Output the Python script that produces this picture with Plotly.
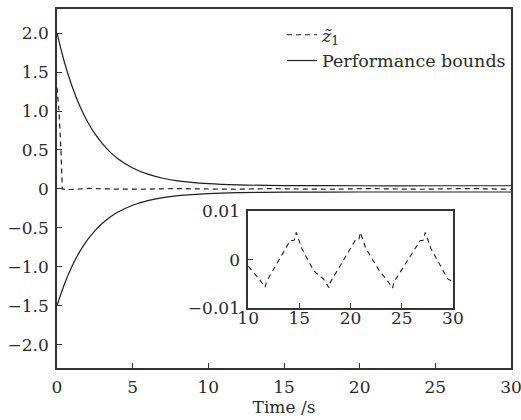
import plotly.graph_objects as go

# Performance bounds
t_bound = [0, 0.5, 1, 1.5, 2, 2.5, 3, 3.5, 4, 5, 6, 7, 8, 10, 12, 15, 20, 25, 30]
upper_bound = [2.00, 1.62, 1.315, 1.068, 0.869, 0.709, 0.58, 0.475, 0.391, 0.268, 0.189,
               0.137, 0.103, 0.067, 0.051, 0.043, 0.040, 0.040, 0.040]
lower_bound = [-1.50, -1.218, -0.99, -0.806, -0.658, -0.538, -0.442, -0.364, -0.301, -0.210,
               -0.151, -0.112, -0.087, -0.060, -0.048, -0.042, -0.040, -0.040, -0.040]

# Tracking error z1
t_z = [0, 0.13, 0.26, 0.35, 0.6, 1.5, 1.8, 2.1, 3.9, 4.8, 5.36, 5.5, 7.8, 8.1, 8.4,
       9.0, 10.1, 11.0, 11.66, 11.8, 14.1, 14.5, 14.7, 15.24, 16.4, 17.35, 17.9, 18.05,
       20.44, 20.8, 20.96, 21.5, 22.9, 23.5, 24.1, 24.25, 26.8, 27.1, 27.3, 27.85, 29.5, 30]
z1 = [1.3, 1.0, 0.5, 0.0, -0.01, 0.0039, 0.004, 0.0056, -0.003, -0.004, -0.0057, -0.0045,
      0.0039, 0.004, 0.0056, 0.0023, -0.0016, -0.0038, -0.0057, -0.0045, 0.0039, 0.004, 0.0056,
      0.0023, -0.0023, -0.004, -0.0058, -0.0046, 0.0039, 0.004, 0.0056, 0.0023, -0.0026, -0.004,
      -0.0059, -0.0046, 0.0039, 0.004, 0.0056, 0.0023, -0.004, -0.0046]

x_ticks = [0, 5, 10, 15, 20, 25, 30]
y_ticks = [2.0, 1.5, 1.0, 0.5, 0, -0.5, -1.0, -1.5, -2.0]
y_ticktext = ["2.0", "1.5", "1.0", "0.5", "0", "\u22120.5", "\u22121.0", "\u22121.5", "\u22122.0"]
inset_x_ticks = [10, 15, 20, 25, 30]
inset_y_ticks = [0.01, 0, -0.01]
inset_y_ticktext = ["0.01", "0", "\u22120.01"]

FONT = "DejaVu Serif"
INK = "#1e1e1e"
TXT = "#2a2a2a"
AX = "#333333"

fig = go.Figure()
fig.add_trace(go.Scatter(x=t_z, y=z1, mode="lines", name="<i>z\u0303</i><sub>1</sub>",
                         line=dict(color=INK, width=1.2, dash="5px,4px")))
fig.add_trace(go.Scatter(x=t_bound, y=upper_bound, mode="lines", name="Performance bounds",
                         line=dict(color=INK, width=1.2, shape="spline", smoothing=0.8)))
fig.add_trace(go.Scatter(x=t_bound, y=lower_bound, mode="lines", showlegend=False,
                         line=dict(color=INK, width=1.2, shape="spline", smoothing=0.8)))
fig.add_trace(go.Scatter(x=t_z, y=z1, mode="lines", showlegend=False, xaxis="x2", yaxis="y2",
                         line=dict(color=INK, width=1.1, dash="5px,4px")))

axis_common = dict(showgrid=False, zeroline=False, showline=True, linecolor=AX, linewidth=1.5,
                   mirror=True, ticks="inside", ticklen=5, tickwidth=1.2, tickcolor=AX,
                   automargin=False, ticklabeloverflow="allow",
                   tickfont=dict(family=FONT, size=17, color=TXT))

fig.update_layout(
    width=521, height=420,
    margin=dict(l=57, r=10, t=9, b=52, autoexpand=False),
    paper_bgcolor="white", plot_bgcolor="white",
    font=dict(family=FONT, size=17, color=TXT),
    showlegend=True,
    legend=dict(x=1.0, xanchor="right", y=0.978, yanchor="top", bgcolor="rgba(0,0,0,0)",
                font=dict(family=FONT, size=17.5, color=TXT), itemwidth=30, tracegroupgap=0),
    xaxis=dict(range=[0, 30], tickvals=x_ticks, ticklabelstandoff=3,
               title=dict(text="Time /s", font=dict(family=FONT, size=17, color=TXT), standoff=1),
               **axis_common),
    yaxis=dict(range=[-2.3, 2.31], tickvals=y_ticks, ticktext=y_ticktext, ticklabelstandoff=3,
               **axis_common),
    xaxis2=dict(domain=[0.421, 0.872], anchor="y2", range=[10, 30], tickvals=inset_x_ticks,
                ticklabelstandoff=-6, **axis_common),
    yaxis2=dict(domain=[0.167, 0.437], anchor="x2", range=[-0.01, 0.01], tickvals=inset_y_ticks,
                ticktext=inset_y_ticktext, ticklabelstandoff=3, **axis_common),
)

fig.write_html("out.html")
